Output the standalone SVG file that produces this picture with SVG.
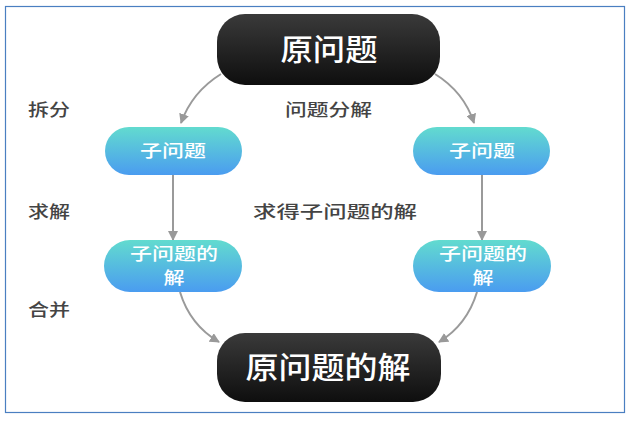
<svg xmlns="http://www.w3.org/2000/svg" width="636" height="421" viewBox="0 0 636 421">
<defs>
<linearGradient id="dark" x1="0" y1="0" x2="0" y2="1">
<stop offset="0" stop-color="#3a3a3a"/>
<stop offset="1" stop-color="#0e0e0e"/>
</linearGradient>
<linearGradient id="teal" x1="0" y1="0" x2="0" y2="1">
<stop offset="0" stop-color="#62dbcf"/>
<stop offset="1" stop-color="#4a9cf0"/>
</linearGradient>
<marker id="ah" viewBox="0 0 10 10" refX="9" refY="5" markerWidth="5" markerHeight="5" orient="auto" markerUnits="strokeWidth">
<path d="M0,0 L10,5 L0,10 Z" fill="#999"/>
</marker>
<style>
.lbl{font-family:"Noto Sans CJK SC","Noto Sans",sans-serif;font-size:17px;font-weight:500;fill:#444}
.big{font-family:"Noto Sans CJK SC","Noto Sans",sans-serif;font-size:30px;font-weight:500;fill:#fff;text-anchor:middle}
.sub{font-family:"Noto Sans CJK SC","Noto Sans",sans-serif;font-size:17px;font-weight:500;fill:#fff;text-anchor:middle}
.edge{fill:none;stroke:#9a9a9a;stroke-width:2;marker-end:url(#ah)}
</style>
</defs>
<rect x="5.5" y="6.5" width="619" height="406" fill="#fff" stroke="#4a7fc1" stroke-width="1.2"/>
<g id="connectors">
<path class="edge" d="M221,74 Q192,92 181,123"/>
<path class="edge" d="M435,74 Q464,92 474,123"/>
<path class="edge" d="M173,175 L173,240"/>
<path class="edge" d="M482,175 L482,240"/>
<path class="edge" d="M180,292 Q190,325 219,342"/>
<path class="edge" d="M477,292 Q467,325 439,342"/>
</g>
<g id="labels">
<text class="lbl" x="28" y="116" textLength="42" lengthAdjust="spacingAndGlyphs">拆分</text>
<text class="lbl" x="285" y="116" textLength="87" lengthAdjust="spacingAndGlyphs">问题分解</text>
<text class="lbl" x="28" y="218" textLength="42" lengthAdjust="spacingAndGlyphs">求解</text>
<text class="lbl" x="253" y="218" textLength="164" lengthAdjust="spacingAndGlyphs">求得子问题的解</text>
<text class="lbl" x="28" y="316" textLength="42" lengthAdjust="spacingAndGlyphs">合并</text>
</g>
<g id="root">
<rect x="217" y="14" width="223" height="71" rx="28" fill="url(#dark)"/>
<text class="big" x="329" y="60" textLength="97" lengthAdjust="spacingAndGlyphs">原问题</text>
</g>
<g id="sub1">
<rect x="105" y="127" width="137" height="48" rx="24" fill="url(#teal)"/>
<text class="sub" x="173" y="157" textLength="66" lengthAdjust="spacingAndGlyphs">子问题</text>
</g>
<g id="sub2">
<rect x="413" y="127" width="137" height="48" rx="24" fill="url(#teal)"/>
<text class="sub" x="482" y="157" textLength="66" lengthAdjust="spacingAndGlyphs">子问题</text>
</g>
<g id="sol1">
<rect x="104" y="240" width="138" height="52" rx="26" fill="url(#teal)"/>
<text class="sub" x="174" y="260" textLength="88" lengthAdjust="spacingAndGlyphs">子问题的</text>
<text class="sub" x="174" y="284" textLength="21" lengthAdjust="spacingAndGlyphs">解</text>
</g>
<g id="sol2">
<rect x="413" y="240" width="138" height="52" rx="26" fill="url(#teal)"/>
<text class="sub" x="483" y="260" textLength="88" lengthAdjust="spacingAndGlyphs">子问题的</text>
<text class="sub" x="483" y="284" textLength="21" lengthAdjust="spacingAndGlyphs">解</text>
</g>
<g id="result">
<rect x="217" y="333" width="224" height="69" rx="28" fill="url(#dark)"/>
<text class="big" x="328" y="378" textLength="165" lengthAdjust="spacingAndGlyphs">原问题的解</text>
</g>
</svg>
